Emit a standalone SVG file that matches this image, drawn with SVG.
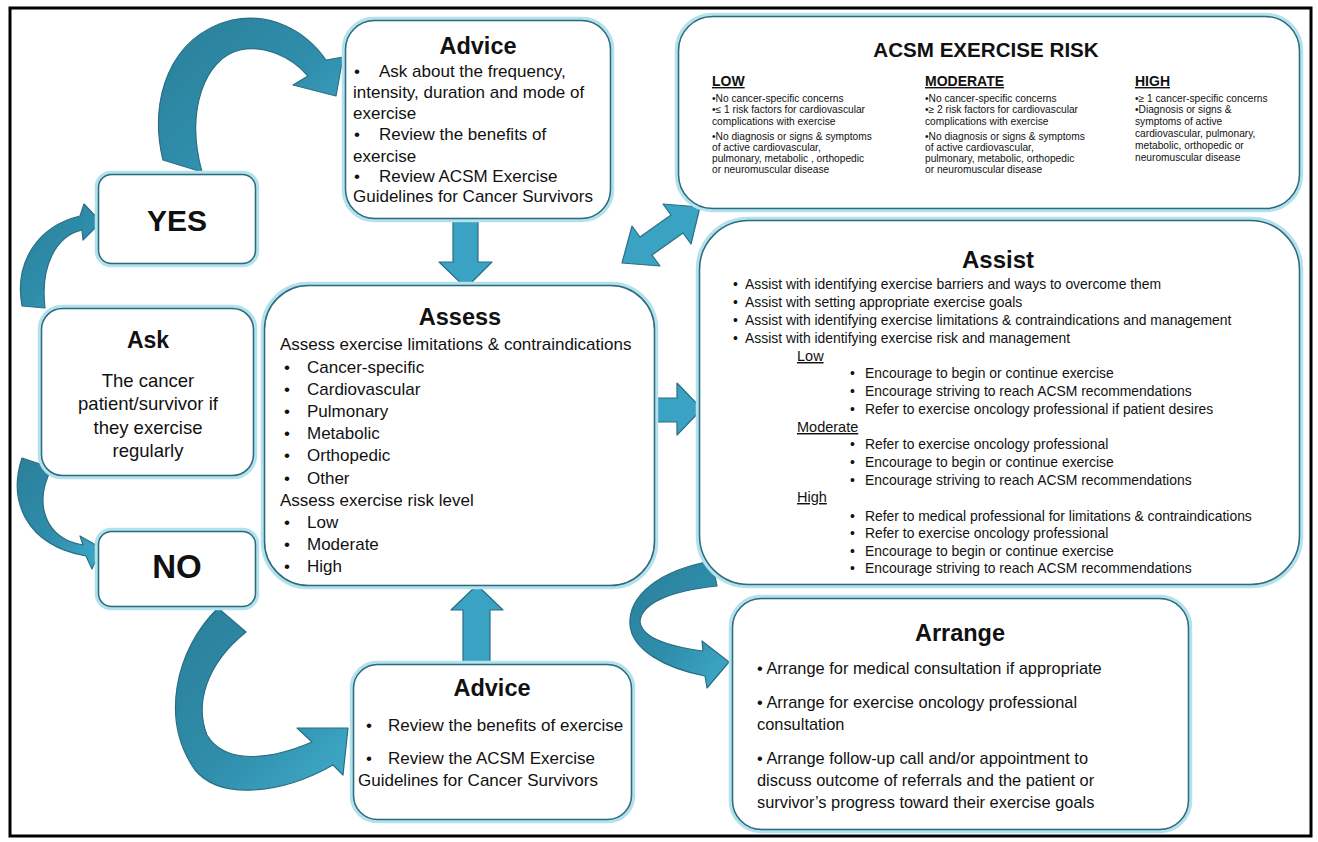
<svg xmlns="http://www.w3.org/2000/svg" width="1318" height="842" viewBox="0 0 1318 842">
<style>
.glow{fill:#fff;stroke:#b3e1ee;stroke-width:4.5}
.edge{fill:none;stroke:#2f6b7c;stroke-width:1.5}
.t{font-family:"Liberation Sans",Arial,sans-serif;fill:#111}
.h{font-family:"Liberation Sans",Arial,sans-serif;font-weight:bold;fill:#111}
.s15{font-size:17px}
.s12{font-size:13.9px}
.s14{font-size:16.4px}
.sm{font-size:10.2px}
.arr{stroke:#2a6e83;stroke-width:1.2;stroke-linejoin:round}
.blk{fill:#3aa3c3}
.u{text-decoration:underline}
</style>
<defs>
<linearGradient id="cg" x1="0" y1="0" x2="1" y2="1">
<stop offset="0" stop-color="#2a7f99"/>
<stop offset="0.55" stop-color="#2f8eab"/>
<stop offset="1" stop-color="#40abca"/>
</linearGradient>
</defs>
<rect x="0" y="0" width="1318" height="842" fill="#fff"/>
<rect x="10" y="8" width="1301" height="828" fill="none" stroke="#000" stroke-width="3"/>

<g id="connectors">
<path class="arr" fill="url(#cg)" d="M163,160 C148,100 170,35 232,20 C270,12 305,30 326,60 L343,57 L336,96 L293,85 L308,76 C290,55 262,45 240,50 C205,58 185,110 202,172 Z"/>
<path class="arr" fill="url(#cg)" d="M22,306 C14,262 38,226 80,216 L84,204 L101,222 L83,240 L82,230 C56,236 40,266 45,308 Z"/>
<path class="arr" fill="url(#cg)" d="M22,458 C8,500 25,545 86,556 L92,569 L101,548 L80,536 L83,545 C47,540 32,505 52,468 Z"/>
<path class="arr" fill="url(#cg)" d="M218,608 C175,650 160,720 195,770 C220,800 280,795 333,765 L343,775 L348,728 L297,728 L312,742 C270,760 225,765 207,735 C195,705 205,665 246,632 Z"/>
<path class="arr" fill="url(#cg)" d="M712,561 C660,570 628,595 630,625 C632,650 665,668 705,676 L707,688 L729,662 L702,641 L703,651 C665,646 641,636 640,621 C642,603 670,591 717,586 Z"/>
<polygon class="arr blk" points="453,213 478,213 478,262 492,262 466,288 439,262 453,262"/>
<polygon class="arr blk" points="463,663 490,663 490,610 503,610 477,585 451,610 463,610"/>
<polygon class="arr blk" points="655,398 677,398 677,383 702,409 677,435 677,422 655,422"/>
<polygon class="arr blk" points="700,207 691,244 683,233 652,255 660,266 622,263 632,226 640,237 671,215 663,204"/>
</g>

<g id="advice-top">
<rect class="glow" x="344" y="19" width="268" height="201" rx="30"/>
<rect class="edge" x="345.5" y="20.5" width="265" height="198" rx="29"/>
<text class="h" x="478" y="54" font-size="23.5" text-anchor="middle">Advice</text>
<text class="t s15" x="354" y="77">•</text><text class="t s15" x="379" y="77">Ask about the frequency,</text>
<text class="t s15" x="353" y="98">intensity, duration and mode of</text>
<text class="t s15" x="353" y="119">exercise</text>
<text class="t s15" x="354" y="140">•</text><text class="t s15" x="379" y="140">Review the benefits of</text>
<text class="t s15" x="353" y="162">exercise</text>
<text class="t s15" x="354" y="182">•</text><text class="t s15" x="379" y="182">Review ACSM Exercise</text>
<text class="t s15" x="353" y="202">Guidelines for Cancer Survivors</text>
</g>

<g id="acsm-risk">
<rect class="glow" x="677" y="15" width="624" height="195" rx="35"/>
<rect class="edge" x="678.5" y="16.5" width="621" height="192" rx="34"/>
<text class="h" x="986" y="57" font-size="20.6" text-anchor="middle">ACSM EXERCISE RISK</text>
<text class="h u" x="712" y="86" font-size="14">LOW</text>
<text class="t sm" x="712" y="102">•No cancer-specific  concerns</text>
<text class="t sm" x="712" y="113">•≤ 1 risk factors for cardiovascular</text>
<text class="t sm" x="712" y="125">complications  with exercise</text>
<text class="t sm" x="712" y="140">•No  diagnosis or signs &amp; symptoms</text>
<text class="t sm" x="712" y="151">of active cardiovascular,</text>
<text class="t sm" x="712" y="162">pulmonary, metabolic , orthopedic</text>
<text class="t sm" x="712" y="173">or neuromuscular  disease</text>
<text class="h u" x="925" y="86" font-size="14">MODERATE</text>
<text class="t sm" x="925" y="102">•No cancer-specific  concerns</text>
<text class="t sm" x="925" y="113">•≥ 2 risk factors for cardiovascular</text>
<text class="t sm" x="925" y="125">complications  with exercise</text>
<text class="t sm" x="925" y="140">•No diagnosis or signs &amp; symptoms</text>
<text class="t sm" x="925" y="151">of active cardiovascular,</text>
<text class="t sm" x="925" y="162">pulmonary, metabolic, orthopedic</text>
<text class="t sm" x="925" y="173">or neuromuscular  disease</text>
<text class="h u" x="1135" y="86" font-size="14">HIGH</text>
<text class="t sm" x="1135" y="102">•≥ 1  cancer-specific concerns</text>
<text class="t sm" x="1135" y="113">•Diagnosis or signs &amp;</text>
<text class="t sm" x="1135" y="125">symptoms of active</text>
<text class="t sm" x="1135" y="137">cardiovascular, pulmonary,</text>
<text class="t sm" x="1135" y="149">metabolic, orthopedic or</text>
<text class="t sm" x="1135" y="161">neuromuscular disease</text>
</g>

<g id="yes">
<rect class="glow" x="97" y="173" width="160" height="92" rx="14"/>
<rect class="edge" x="98.5" y="174.5" width="157" height="89" rx="13"/>
<text class="h" x="177" y="231" font-size="30" text-anchor="middle">YES</text>
</g>

<g id="ask">
<rect class="glow" x="40" y="307" width="215" height="170" rx="22"/>
<rect class="edge" x="41.5" y="308.5" width="212" height="167" rx="21"/>
<text class="h" x="148" y="348" font-size="23" text-anchor="middle">Ask</text>
<text class="t" x="148" y="387" font-size="18.5" text-anchor="middle">The cancer</text>
<text class="t" x="148" y="410" font-size="18.5" text-anchor="middle">patient/survivor if</text>
<text class="t" x="148" y="434" font-size="18.5" text-anchor="middle">they exercise</text>
<text class="t" x="148" y="457" font-size="18.5" text-anchor="middle">regularly</text>
</g>

<g id="no">
<rect class="glow" x="97" y="530" width="160" height="78" rx="14"/>
<rect class="edge" x="98.5" y="531.5" width="157" height="75" rx="13"/>
<text class="h" x="177" y="578" font-size="33" text-anchor="middle">NO</text>
</g>

<g id="assess">
<rect class="glow" x="263" y="284" width="393" height="303" rx="45"/>
<rect class="edge" x="264.5" y="285.5" width="390" height="300" rx="44"/>
<text class="h" x="460" y="325" font-size="23.5" text-anchor="middle">Assess</text>
<text class="t s15" x="280" y="350">Assess exercise limitations &amp; contraindications</text>
<text class="t s15" x="284" y="373">•</text><text class="t s15" x="307" y="373">Cancer-specific</text>
<text class="t s15" x="284" y="395">•</text><text class="t s15" x="307" y="395">Cardiovascular</text>
<text class="t s15" x="284" y="417">•</text><text class="t s15" x="307" y="417">Pulmonary</text>
<text class="t s15" x="284" y="439">•</text><text class="t s15" x="307" y="439">Metabolic</text>
<text class="t s15" x="284" y="461">•</text><text class="t s15" x="307" y="461">Orthopedic</text>
<text class="t s15" x="284" y="484">•</text><text class="t s15" x="307" y="484">Other</text>
<text class="t s15" x="280" y="506">Assess exercise risk level</text>
<text class="t s15" x="284" y="528">•</text><text class="t s15" x="307" y="528">Low</text>
<text class="t s15" x="284" y="550">•</text><text class="t s15" x="307" y="550">Moderate</text>
<text class="t s15" x="284" y="572">•</text><text class="t s15" x="307" y="572">High</text>
</g>

<g id="assist">
<rect class="glow" x="698" y="219" width="603" height="367" rx="50"/>
<rect class="edge" x="699.5" y="220.5" width="600" height="364" rx="49"/>
<text class="h" x="998" y="268" font-size="24" text-anchor="middle">Assist</text>
<text class="t s12" x="733" y="289">•</text><text class="t s12" x="745" y="289">Assist with identifying exercise barriers and ways to overcome them</text>
<text class="t s12" x="733" y="307">•</text><text class="t s12" x="745" y="307">Assist with setting appropriate exercise goals</text>
<text class="t s12" x="733" y="325">•</text><text class="t s12" x="745" y="325">Assist with identifying exercise limitations &amp; contraindications and management</text>
<text class="t s12" x="733" y="343">•</text><text class="t s12" x="745" y="343">Assist with identifying exercise risk and management</text>
<text class="t u" x="797" y="361" font-size="14.5">Low</text>
<text class="t s12" x="850" y="378">•</text><text class="t s12" x="865" y="378">Encourage to begin or continue exercise</text>
<text class="t s12" x="850" y="396">•</text><text class="t s12" x="865" y="396">Encourage striving to reach ACSM recommendations</text>
<text class="t s12" x="850" y="414">•</text><text class="t s12" x="865" y="414">Refer to exercise oncology professional if patient desires</text>
<text class="t u" x="797" y="432" font-size="14.5">Moderate</text>
<text class="t s12" x="850" y="449">•</text><text class="t s12" x="865" y="449">Refer to exercise oncology professional</text>
<text class="t s12" x="850" y="467">•</text><text class="t s12" x="865" y="467">Encourage to begin or continue exercise</text>
<text class="t s12" x="850" y="485">•</text><text class="t s12" x="865" y="485">Encourage striving to reach ACSM recommendations</text>
<text class="t u" x="797" y="502" font-size="14.5">High</text>
<text class="t s12" x="850" y="521">•</text><text class="t s12" x="865" y="521">Refer to medical professional for limitations &amp; contraindications</text>
<text class="t s12" x="850" y="538">•</text><text class="t s12" x="865" y="538">Refer to exercise oncology professional</text>
<text class="t s12" x="850" y="556">•</text><text class="t s12" x="865" y="556">Encourage to begin or continue exercise</text>
<text class="t s12" x="850" y="573">•</text><text class="t s12" x="865" y="573">Encourage striving to reach ACSM recommendations</text>
</g>

<g id="advice-bottom">
<rect class="glow" x="352" y="663" width="281" height="158" rx="25"/>
<rect class="edge" x="353.5" y="664.5" width="278" height="155" rx="24"/>
<text class="h" x="492" y="696" font-size="23.5" text-anchor="middle">Advice</text>
<text class="t s15" x="366" y="731">•</text><text class="t s15" x="388" y="731">Review the benefits of exercise</text>
<text class="t s15" x="366" y="764">•</text><text class="t s15" x="388" y="764">Review the ACSM Exercise</text>
<text class="t s15" x="358" y="786">Guidelines for Cancer Survivors</text>
</g>

<g id="arrange">
<rect class="glow" x="731" y="597" width="459" height="234" rx="30"/>
<rect class="edge" x="732.5" y="598.5" width="456" height="231" rx="29"/>
<text class="h" x="960" y="641" font-size="23.5" text-anchor="middle">Arrange</text>
<text class="t s14" x="757" y="674">• Arrange for medical consultation if appropriate</text>
<text class="t s14" x="757" y="708">• Arrange for exercise oncology professional</text>
<text class="t s14" x="757" y="730">consultation</text>
<text class="t s14" x="757" y="764">• Arrange follow-up call and/or appointment to</text>
<text class="t s14" x="757" y="786">discuss outcome of referrals and the patient or</text>
<text class="t s14" x="757" y="808">survivor’s progress toward their exercise goals</text>
</g>
</svg>
